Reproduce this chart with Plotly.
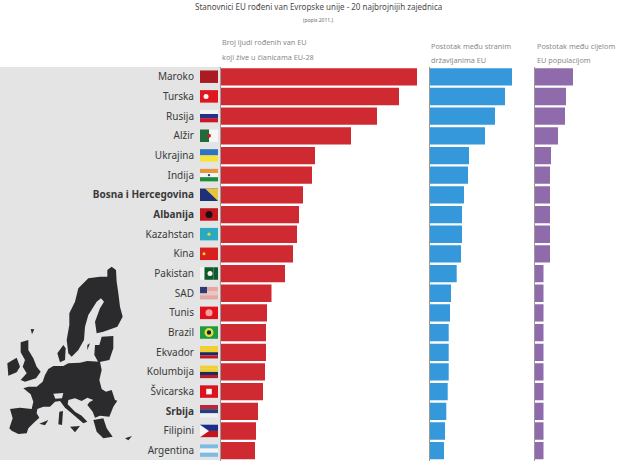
import plotly.graph_objects as go

W, H = 640, 472
countries = ["Maroko","Turska","Rusija","Alžir","Ukrajina","Indija","<b>Bosna i Hercegovina</b>","<b>Albanija</b>",
             "Kazahstan","Kina","Pakistan","SAD","Tunis","Brazil","Ekvador","Kolumbija","Švicarska","<b>Srbija</b>","Filipini","Argentina"]
eu_born = [196,178,156,130,94,91,82,78,76,72,64,50.5,46,45,45,44,42,37,35,34]
pct_foreign = [82,75,65,55,39,38,34,32,32,31,26.7,21,20,18.7,18.7,18.7,17.7,16.3,15,14]
pct_population = [38,31,30,23,16,15,15,15,15,15,8.5,8.5,8.5,8.5,8.5,8.5,8.5,8.5,8.5,8.5]

TOP, BOT = 67, 461
def px(x): return x / W
def py(y): return 1 - y / H
def rect(x0, y0, x1, y1, c):
    return dict(type="rect", xref="paper", yref="paper", x0=px(x0), x1=px(x1), y0=py(y0), y1=py(y1),
                fillcolor=c, line_width=0, layer="below")
def poly(pts, c="#2b2b2d", scale=3, ox=0, oy=265):
    d = "M" + "L".join(f"{px(ox+a/scale):.5f},{py(oy+b/scale):.5f}" for a, b in pts) + "Z"
    return dict(type="path", xref="paper", yref="paper", path=d, fillcolor=c, line_width=0, layer="below")

shapes = [rect(0, TOP, 221, 460, "#e4e4e4")]

# EU map silhouette, traced
land = [
 [(335,5),(348,15),(350,50),(355,85),(360,125),(368,155),(352,185),(310,200),(290,205),(285,170),(300,130),(312,110),(303,100),(290,110),(265,150),(255,185),(252,225),(235,255),(215,275),(205,265),(200,225),(208,180),(208,145),(225,110),(235,70),(265,40),(300,35),(322,35),(322,15)],
 [(305,215),(340,213),(340,250),(328,285),(295,292),(283,270),(285,240),(298,240)],
 [(190,240),(197,250),(195,285),(180,292),(172,265)],
 [(22,295),(50,278),(60,305),(50,322),(25,332)],
 [(62,232),(85,225),(85,255),(100,280),(110,305),(122,320),(108,340),(75,350),(62,345),(80,325),(68,305),(75,285),(62,262)],
 [(92,192),(103,193),(96,208)],
 [(145,312),(160,303),(190,303),(205,295),(240,293),(262,288),(300,290),(305,315),(298,345),(305,372),(318,380),(335,375),(345,405),(352,407),(340,425),(328,455),(300,452),(285,458),(278,440),(262,420),(268,412),(280,405),(262,398),(245,408),(225,400),(205,405),(203,418),(225,440),(245,452),(262,470),(250,475),(235,462),(215,445),(195,428),(180,408),(165,410),(150,425),(130,425),(112,432),(110,445),(118,458),(100,475),(85,490),(80,505),(55,507),(35,497),(28,490),(38,460),(30,432),(60,428),(95,432),(100,410),(92,388),(70,370),(85,365),(110,365),(128,350),(135,330)],
 [(178,440),(189,438),(186,480),(175,478)],
 [(210,485),(240,483),(225,502)],
 [(280,465),(310,460),(320,490),(338,515),(310,520),(290,500)],
 [(375,520),(396,513),(385,526)],
 [(118,476),(145,465),(135,481)],
 [(262,240),(270,235),(262,255)],
]
shapes += [poly(p) for p in land]
shapes.append(poly([(160,386),(190,384),(186,400),(166,401)], "#e4e4e4"))

# Flags: stripes per row, drawn left of the bars
FX0, FX1, FH = 200, 218, 12.5
def row_y(i): return 76.7 + i * 19.68
flag_stripes = [
 ("h", ["#a81c22"]), ("h", ["#e0161e"]), ("h", ["#f4f4f6", "#27308c", "#c8182a"]), ("v", ["#1f6b3a", "#f6f6f6"]),
 ("h", ["#2f74c0", "#f6e23c"]), ("h", ["#e8963c", "#f4f4f0", "#218a3c"]), ("h", ["#1f2f78"]), ("h", ["#c4161e"]),
 ("h", ["#2aa9c0"]), ("h", ["#d8201e"]), ("v", ["#f4f4f4", "#0f5a2c", "#0f5a2c", "#0f5a2c"]), ("h", ["#e4a8a4", "#eec4c0", "#e2a8a4"]),
 ("h", ["#e0101e"]), ("h", ["#1f9a3c"]), ("h", ["#f0d030", "#f0d030", "#1c2a60", "#b81c28"]), ("h", ["#f0d030", "#f0d030", "#1c2a60", "#b81c28"]),
 ("h", ["#d8141e"]), ("h", ["#b82838", "#27407c", "#f0f0f0"]), ("h", ["#1c2e8c", "#c8141e"]), ("h", ["#7cbce4", "#f4f4f4", "#7cbce4"]),
]
for i, (mode, cols) in enumerate(flag_stripes):
    yc = row_y(i); n = len(cols)
    for k, c in enumerate(cols):
        if mode == "h":
            shapes.append(rect(FX0, yc-FH/2+FH*k/n, FX1, yc-FH/2+FH*(k+1)/n, c))
        else:
            shapes.append(rect(FX0+(FX1-FX0)*k/n, yc-FH/2, FX0+(FX1-FX0)*(k+1)/n, yc+FH/2, c))
def emblem(i, kind, c, x=209, r=3):
    yc = row_y(i)
    shapes.append(dict(type=kind, xref="paper", yref="paper", x0=px(x-r), x1=px(x+r), y0=py(yc-r), y1=py(yc+r),
                       fillcolor=c, line_width=0, layer="below"))
emblem(1, "circle", "#f6f0f0", 206, 2.5); emblem(3, "circle", "#c81e2a", 209, 2); emblem(7, "circle", "#1c1014", 209, 3.5)
emblem(8, "circle", "#e4d24c", 209, 1.6); emblem(9, "circle", "#f0d030", 204, 1.5); emblem(10, "circle", "#f4f4f4", 210, 2.5)
emblem(12, "circle", "#f4a0a0", 209, 3.5); emblem(13, "circle", "#e8dc3c", 209, 4.5); emblem(13, "circle", "#16204c", 209, 2.2)
emblem(16, "rect", "#f6f6f6", 209, 2.8); emblem(5, "circle", "#28408c", 209, 1.2)
yb = row_y(6)
shapes.append(dict(type="path", xref="paper", yref="paper", layer="below", line_width=0, fillcolor="#e8c43c",
    path=f"M{px(205)},{py(yb-FH/2)}L{px(218)},{py(yb-FH/2)}L{px(218)},{py(yb+FH/2)}Z"))
yf = row_y(18)
shapes.append(dict(type="path", xref="paper", yref="paper", layer="below", line_width=0, fillcolor="#f6f6f6",
    path=f"M{px(200)},{py(yf-FH/2)}L{px(209)},{py(yf)}L{px(200)},{py(yf+FH/2)}Z"))
ys = row_y(11)
shapes.append(rect(200, ys-FH/2, 207, ys, "#2c3c78"))

fig = go.Figure()
def bar(vals, color, xa, ya):
    fig.add_trace(go.Bar(y=countries, x=vals, orientation="h", marker=dict(color=color, line_width=0),
                         width=0.88, xaxis=xa, yaxis=ya, showlegend=False, hoverinfo="x+y"))
bar(eu_born, "#cf2a32", "x", "y")
bar(pct_foreign, "#3498db", "x2", "y2")
bar(pct_population, "#8f6bab", "x3", "y3")

def xax(x0, x1, maxv):
    return dict(domain=[px(x0), px(x1)], range=[0, maxv], visible=False, fixedrange=True)
Y_DOM = [py(460.5), py(67)]
def yax(labels):
    d = dict(domain=Y_DOM, categoryorder="array", categoryarray=countries, autorange="reversed",
             showline=True, linecolor="#9a9a9a", linewidth=1, showgrid=False, zeroline=False, fixedrange=True)
    if labels:
        d.update(ticks="outside", ticklen=24, tickcolor="rgba(0,0,0,0)",
                 tickfont=dict(family="Noto Sans", size=10, color="#3a3a3a"))
    else:
        d.update(showticklabels=False, ticks="")
    return d

def note(x, y, t, size=7.3, color="#8a8a8a", anchor="left", family="Noto Sans"):
    return dict(xref="paper", yref="paper", x=px(x), y=py(y), text=t, showarrow=False, xanchor=anchor,
                yanchor="middle", font=dict(family=family, size=size, color=color))
annotations = [
    note(318, 7, "Stanovnici EU rođeni van Evropske unije - 20 najbrojnijih zajednica", 8, "#4a4a4a", "center"),
    note(318, 20, "(popis 2011.)", 5, "#6a6a6a", "center"),
    note(220, 42, "Broj ljudi rođenih van EU"), note(220, 57, "koji žive u članicama EU-28"),
    note(429, 46, "Postotak među stranim"), note(429, 60, "državljanima EU"),
    note(535, 46, "Postotak među cijelom"), note(535, 60, "EU populacijom"),
]

fig.update_layout(
    width=W, height=H, margin=dict(l=0, r=0, t=0, b=0), paper_bgcolor="white", plot_bgcolor="rgba(0,0,0,0)",
    shapes=shapes, annotations=annotations, bargap=0.12,
    xaxis=dict(**xax(221, 417, 196), anchor="y"), yaxis=dict(**yax(True), anchor="x"),
    xaxis2=dict(**xax(430, 512, 82), anchor="y2"), yaxis2=dict(**yax(False), anchor="x2"),
    xaxis3=dict(**xax(535, 573, 38), anchor="y3"), yaxis3=dict(**yax(False), anchor="x3"),
)
fig.write_html("out.html", config={"displayModeBar": False},
               post_script="document.body.style.margin='0';document.body.style.overflow='hidden';")
